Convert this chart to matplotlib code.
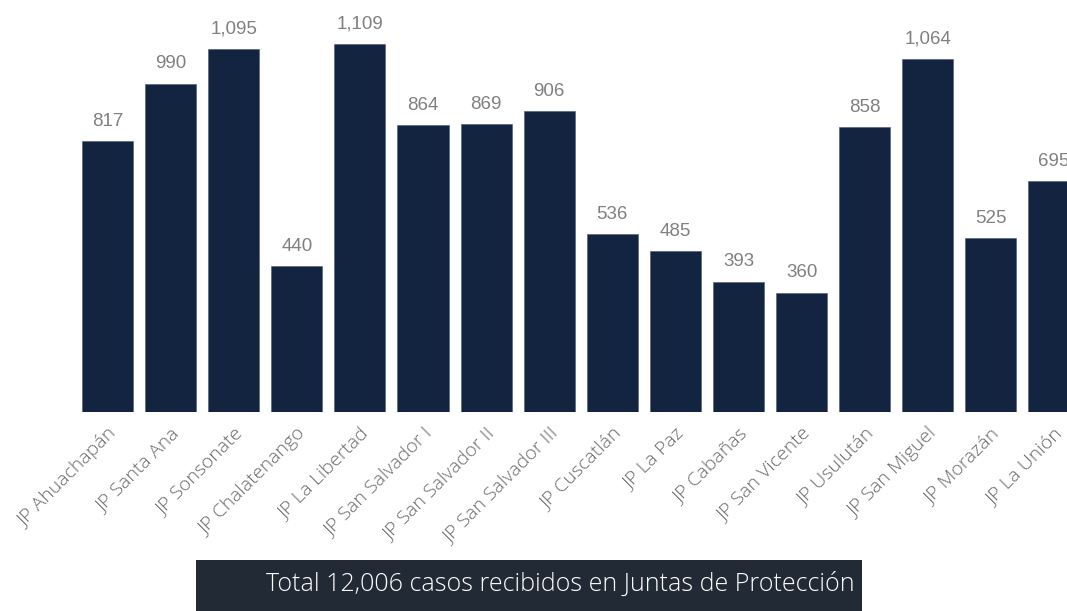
import matplotlib
matplotlib.use("Agg")
import matplotlib.pyplot as plt
from matplotlib.patches import Rectangle

categories = ["JP Ahuachapán", "JP Santa Ana", "JP Sonsonate", "JP Chalatenango",
              "JP La Libertad", "JP San Salvador I", "JP San Salvador II",
              "JP San Salvador III", "JP Cuscatlán", "JP La Paz", "JP Cabañas",
              "JP San Vicente", "JP Usulután", "JP San Miguel", "JP Morazán",
              "JP La Unión"]
values = [817, 990, 1095, 440, 1109, 864, 869, 906, 536, 485, 393, 360, 858, 1064, 525, 695]
total_text = "Total 12,006 casos recibidos en Juntas de Protección"

W, H = 1067, 611
fig = plt.figure(figsize=(W / 100, H / 100), dpi=100)
ax = fig.add_axes([0, (H - 412) / H, 1, 412 / H])

x = list(range(len(categories)))
ax.bar(x, values, width=0.81, color="#12243f", edgecolor="#4a5870", linewidth=0.4)
for xi, v in zip(x, values):
    ax.annotate(f"{v:,}", (xi, v), xytext=(0, 8), textcoords="offset points",
                ha="center", va="bottom", fontsize=13.5, color="#808080",
                family="Liberation Sans", annotation_clip=False)

ax.set_xlim(-1.704, 15.206)
ax.set_ylim(0, 1241.7)
ax.set_xticks(x)
ax.set_xticklabels(categories, rotation=45, ha="right", rotation_mode="anchor",
                   fontsize=14, color="#6a6a6a", family="Open Sans", fontweight="light")
ax.tick_params(axis="x", length=0, pad=9)
ax.set_yticks([])
for s in ax.spines.values():
    s.set_visible(False)

box = Rectangle((196 / W, 0), (862 - 196) / W, (611 - 560) / H,
                transform=fig.transFigure, facecolor="#222a36", edgecolor="none")
fig.patches.append(box)
fig.text(560 / W, (611 - 584) / H, total_text, ha="center", va="center",
         fontsize=18, color="white", family="Open Sans", fontweight="light")

fig.savefig("out.png", dpi=100)
